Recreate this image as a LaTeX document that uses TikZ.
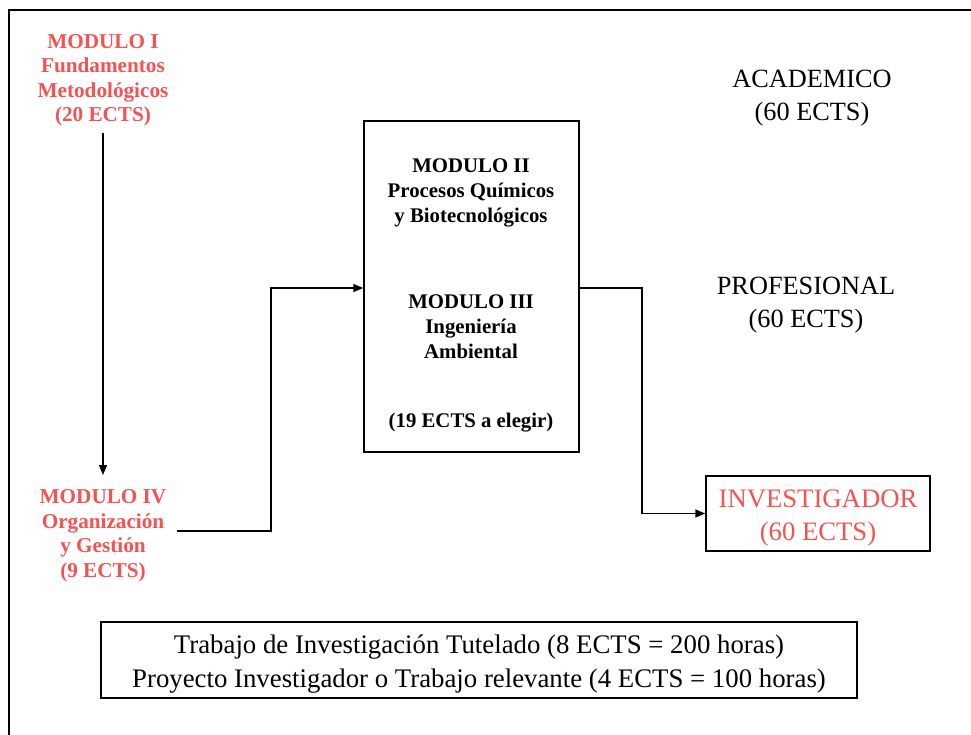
\documentclass[tikz,border=0pt]{standalone}
\usepackage{fontspec}
\setmainfont{Liberation Serif}
\usetikzlibrary{arrows.meta}
\definecolor{modred}{RGB}{245,82,82}
\begin{document}
\begin{tikzpicture}[x=1pt,y=-1pt,
  line width=1.4pt,
  arr/.style={-{Triangle[length=10pt,width=8pt]}},
  redmod/.style={text=modred,align=center,inner sep=0pt,
    font=\fontsize{21.2}{24.5}\selectfont\bfseries},
  midtxt/.style={align=center,inner sep=0pt,
    font=\fontsize{20.8}{25}\selectfont\bfseries},
  plain/.style={align=center,inner sep=0pt,
    font=\fontsize{26.3}{33}\selectfont},
  boxed/.style={draw,line width=1.4pt,inner sep=0pt}]
\useasboundingbox (0,0) rectangle (971,734);
% outer frame, cropped on the right and at the bottom
\begin{scope}
\clip (0,0) rectangle (971,734);
\draw[line width=2pt] (9,760) -- (9,10) -- (1000,10);
\end{scope}

% left column
\node[redmod] (m1) at (103,80) {MODULO I\\Fundamentos\\Metodológicos\\(20 ECTS)};
\node[redmod] (m4) at (103,535.5) {MODULO IV\\Organización\\y Gestión\\(9 ECTS)};

% central block
\node[boxed,minimum width=215pt,minimum height=331pt] (mid) at (471.5,286.5) {};
\node[midtxt] (m2) at (471,192.5) {MODULO II\\Procesos Químicos\\y Biotecnológicos};
\node[midtxt] (m3) at (471,326.5) {MODULO III\\Ingeniería\\Ambiental};
\node[midtxt] (ects) at (471,423) {(19 ECTS a elegir)};

% profiles
\node[plain] (acad) at (812,98) {ACADEMICO\\(60 ECTS)};
\node[plain] (prof) at (806,305) {PROFESIONAL\\(60 ECTS)};
\node[boxed,minimum width=224pt,minimum height=75pt] (inv) at (818,513.5) {};
\node[plain,text=modred,font=\fontsize{26.7}{33}\selectfont] (invtxt) at (818,517.5)
  {INVESTIGADOR\\(60 ECTS)};

% bottom note
\node[boxed,minimum width=756pt,minimum height=76pt] (note) at (479,660) {};
\node[align=center,inner sep=0pt,font=\fontsize{26.8}{34}\selectfont] (notetxt) at (479,664)
  {Trabajo de Investigación Tutelado (8 ECTS = 200 horas)\\Proyecto Investigador o Trabajo relevante (4 ECTS = 100 horas)};

% connectors
\coordinate (s4) at (177,531);
\coordinate (j1) at (271,288);
\coordinate (j2) at (642,288);
\draw[arr] (m1.south) ++(0,6) -- (103,475);
\draw[arr] (s4) -| (j1) -- (j1 -| mid.west);
\draw[arr] (j1 -| mid.east) -- (j2) |- (inv.west);
\end{tikzpicture}
\end{document}
